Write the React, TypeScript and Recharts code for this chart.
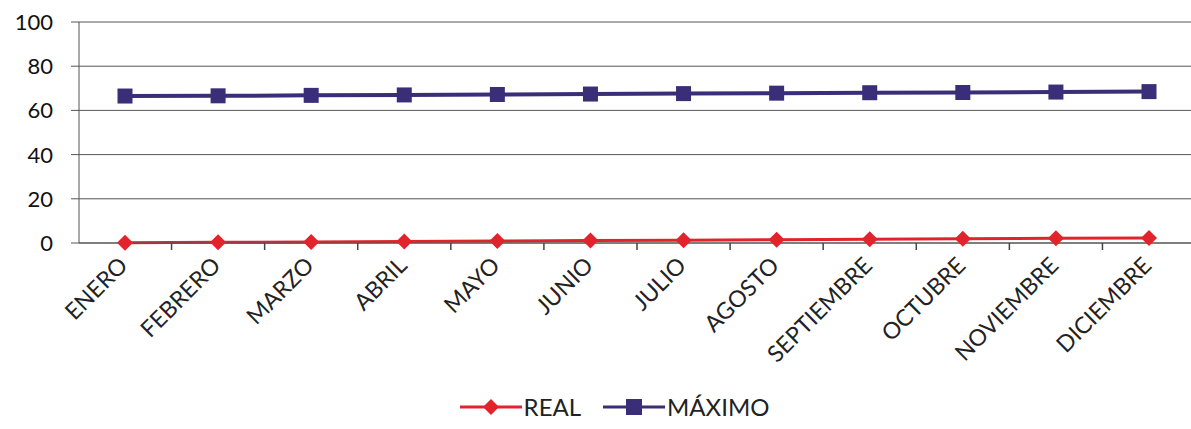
import React from 'react';
import {
  LineChart, Line, XAxis, YAxis, CartesianGrid, Legend,
} from 'recharts';

const meses = [
  'ENERO', 'FEBRERO', 'MARZO', 'ABRIL', 'MAYO', 'JUNIO',
  'JULIO', 'AGOSTO', 'SEPTIEMBRE', 'OCTUBRE', 'NOVIEMBRE', 'DICIEMBRE',
];
const real = [0.1, 0.3, 0.5, 0.7, 0.9, 1.1, 1.3, 1.5, 1.7, 1.9, 2.1, 2.3];
const maximo = [66.5, 66.6, 66.8, 67.0, 67.2, 67.4, 67.6, 67.8, 68.0, 68.1, 68.3, 68.5];
const yTicks = [0, 20, 40, 60, 80, 100];

const datos = meses.map((mes, i) => ({ mes, real: real[i], maximo: maximo[i] }));

const ROJO = '#e3232b';
const MORADO = '#3a2e78';
const FONT = 'Lato, "Open Sans", sans-serif';
const PAD = 46;

function Rombo(props: any) {
  const { cx, cy, index } = props;
  if (cx == null || cy == null) return null;
  const r = 8;
  return (
    <polygon
      key={`r-${index}`}
      points={`${cx},${cy - r} ${cx + r},${cy} ${cx},${cy + r} ${cx - r},${cy}`}
      fill={ROJO}
    />
  );
}

function Cuadro(props: any) {
  const { cx, cy, index } = props;
  if (cx == null || cy == null) return null;
  const s = 15;
  return <rect key={`c-${index}`} x={cx - s / 2} y={cy - s / 2} width={s} height={s} fill={MORADO} />;
}

// etiqueta girada + marca de separación entre categorías (estilo Excel)
function MesTick(props: any) {
  const { x, y, payload, index, width, visibleTicksCount } = props;
  const n = visibleTicksCount ?? meses.length;
  const paso = (width - 2 * PAD) / (n - 1);
  const ax = x + 4;
  const ay = y + 24;
  return (
    <g>
      {index < n - 1 && (
        <line x1={x + paso / 2} x2={x + paso / 2} y1={y} y2={y + 7} stroke="#444" strokeWidth={1.5} />
      )}
      <text
        x={ax}
        y={ay}
        transform={`rotate(-45, ${ax}, ${ay})`}
        textAnchor="end"
        fontSize={23}
        fontFamily={FONT}
        fill="#222"
      >
        {payload.value}
      </text>
    </g>
  );
}

function ValorTick(props: any) {
  const { x, y, payload } = props;
  return (
    <text x={x - 16} y={y + 8} textAnchor="end" fontSize={22} fontFamily={FONT} fill="#111">
      {payload.value}
    </text>
  );
}

function Leyenda() {
  const item = (label: string, color: string, marker: React.ReactNode) => (
    <span style={{ display: 'inline-flex', alignItems: 'center', marginRight: 22 }}>
      <svg width={62} height={20}>
        <line x1={0} y1={10} x2={62} y2={10} stroke={color} strokeWidth={3} />
        {marker}
      </svg>
      <span style={{ marginLeft: 2 }}>{label}</span>
    </span>
  );
  return (
    <div
      style={{
        height: 46, display: 'flex', justifyContent: 'center', alignItems: 'flex-end',
        fontFamily: FONT, fontSize: 24, color: '#222', paddingLeft: 56,
      }}
    >
      {item('REAL', ROJO, <polygon points="31,2 39,10 31,18 23,10" fill={ROJO} />)}
      {item('MÁXIMO', MORADO, <rect x={23} y={2} width={16} height={16} fill={MORADO} />)}
    </div>
  );
}

export default function App() {
  return (
    <div style={{ position: 'absolute', left: 0, top: 0, background: '#fff' }}>
      <LineChart
        width={1191}
        height={429}
        data={datos}
        margin={{ top: 22, right: -4, bottom: 8, left: 0 }}
      >
        <CartesianGrid vertical={false} stroke="#555" strokeWidth={1} />
        <XAxis
          dataKey="mes"
          interval={0}
          height={132}
          padding={{ left: PAD, right: PAD }}
          tick={<MesTick />}
          tickLine={false}
          tickSize={0}
          tickMargin={0}
          axisLine={{ stroke: '#555' }}
        />
        <YAxis
          domain={[0, 100]}
          ticks={yTicks}
          width={79}
          tick={<ValorTick />}
          tickLine={{ stroke: '#555' }}
          tickSize={8}
          axisLine={{ stroke: '#555' }}
        />
        <Legend verticalAlign="bottom" content={<Leyenda />} />
        <Line
          dataKey="real"
          name="REAL"
          stroke={ROJO}
          strokeWidth={3}
          dot={<Rombo />}
          activeDot={false}
          isAnimationActive={false}
        />
        <Line
          dataKey="maximo"
          name="MÁXIMO"
          stroke={MORADO}
          strokeWidth={4}
          dot={<Cuadro />}
          activeDot={false}
          isAnimationActive={false}
        />
      </LineChart>
    </div>
  );
}
